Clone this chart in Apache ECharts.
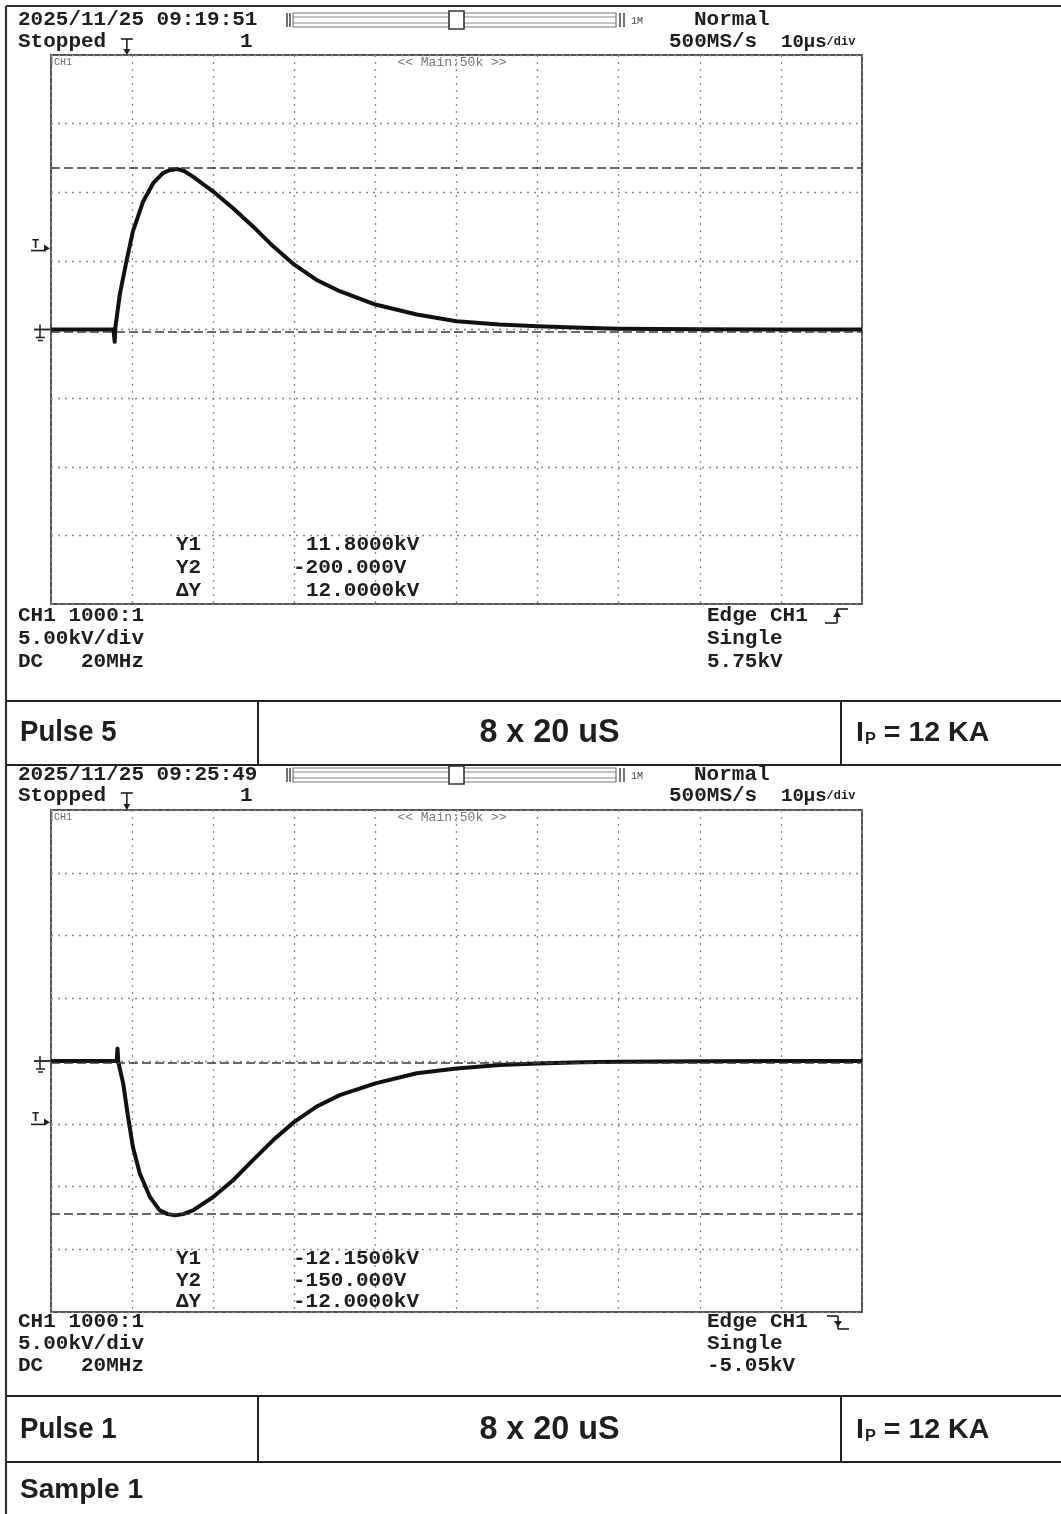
<!DOCTYPE html>
<html><head><meta charset="utf-8">
<script src="https://cdn.jsdelivr.net/npm/echarts@6/dist/echarts.min.js"></script>
<style>html,body{margin:0;padding:0;background:#fff}#c{width:1061px;height:1514px}</style>
</head><body><div id="c"></div>
<script>
// ---------------- data ----------------
// Pulse 5 (positive 8/20 impulse), time in µs, voltage in kV
const pulse5TimeUs = [0, 7.7, 7.85, 7.95, 8.48, 9.3, 10.1, 11.36, 12.6, 13.8, 14.6, 15.5, 16.4, 17.5, 20.0, 22.45, 24.9, 27.4, 30.0, 32.7, 35.6, 40.0, 45.1, 50.0, 55.3, 60.0, 65.5, 70, 80, 90, 100];
const pulse5Kv     = [0, 0, -0.9, 0.2, 2.54, 4.97, 7.15, 9.33, 10.66, 11.39, 11.6, 11.7, 11.55, 11.14, 10.05, 8.84, 7.51, 6.06, 4.72, 3.63, 2.79, 1.82, 1.09, 0.6, 0.36, 0.24, 0.12, 0.05, 0.02, 0, 0];
// Pulse 1 (negative 8/20 impulse)
const pulse1TimeUs = [0, 8.1, 8.2, 8.3, 8.9, 9.5, 10.1, 10.95, 12.2, 13.4, 14.4, 15.3, 16.3, 17.5, 20.0, 22.45, 24.9, 27.4, 30.0, 32.7, 35.6, 40.0, 45.1, 50.0, 55.3, 60.0, 65.5, 70, 80, 90, 100];
const pulse1Kv     = [0, 0, 1.0, -0.1, -1.78, -4.45, -6.85, -8.97, -10.84, -11.9, -12.2, -12.3, -12.2, -11.9, -10.84, -9.5, -7.9, -6.3, -4.85, -3.65, -2.72, -1.78, -0.98, -0.59, -0.32, -0.2, -0.1, -0.05, -0.02, 0, 0];

const pulse5CursorsKv = [11.8, -0.2];     // Y1, Y2
const pulse1CursorsKv = [-12.15, -0.15];
const pulse5TriggerKv = 5.75;
const pulse1TriggerKv = -5.05;
const triggerTimeUs = 9.35;

const pulse5Readout = ['11.8000kV', '-200.000V', '12.0000kV'];
const pulse1Readout = ['-12.1500kV', '-150.000V', '-12.0000kV'];
const readoutNames = ['Y1', 'Y2', 'ΔY'];
const pulse5Dates = ['2025/11/25 09:19:51'];
const pulse1Dates = ['2025/11/25 09:25:49'];
const pulse5Footer = ['CH1 1000:1', '5.00kV/div', 'DC   20MHz'];
const pulse5TrigInfo = ['Edge CH1', 'Single', '5.75kV'];
const pulse1Footer = ['CH1 1000:1', '5.00kV/div', 'DC   20MHz'];
const pulse1TrigInfo = ['Edge CH1', 'Single', '-5.05kV'];
const rowPulseNames = ['Pulse 5', 'Pulse 1'];
const rowWaveforms = ['8 x 20 uS', '8 x 20 uS'];
const rowPeakCurrent = ['12 KA', '12 KA'];
const footerSample = 'Sample 1';

// ---------------- chart ----------------
const chart = echarts.init(document.getElementById('c'), null, {renderer: 'canvas'});
const zip = (a, b) => a.map((t, i) => [t, b[i]]);

const G = [
  {left: 51, top: 55, width: 811, height: 549},
  {left: 51, top: 810, width: 811, height: 502}
];
function xAx(i) {
  return {gridIndex: i, type: 'value', min: 0, max: 100, interval: 10,
    axisLine: {show: false}, axisTick: {show: false}, axisLabel: {show: false},
    splitLine: {show: true, lineStyle: {color: '#8a8a8a', type: [2, 5], width: 1.3}}};
}
function yAx(i) {
  return {gridIndex: i, type: 'value', min: -20, max: 20, interval: 5,
    axisLine: {show: false}, axisTick: {show: false}, axisLabel: {show: false},
    splitLine: {show: true, lineStyle: {color: '#8a8a8a', type: [2, 5], width: 1.3}}};
}
function trace(i, t, v, cursors) {
  return {type: 'line', xAxisIndex: i, yAxisIndex: i, data: zip(t, v),
    showSymbol: false, symbol: 'none', smooth: false, animation: false,
    lineStyle: {color: '#111', width: 4, join: 'round'},
    markLine: {silent: true, symbol: 'none', animation: false, label: {show: false},
      lineStyle: {color: '#3a3a3a', type: [9, 4], width: 1.6},
      data: cursors.map(c => ({yAxis: c}))}};
}

chart.setOption({
  animation: false,
  backgroundColor: '#fff',
  grid: G.map(g => Object.assign({show: true, borderColor: '#555', borderWidth: 2, backgroundColor: 'transparent'}, g)),
  xAxis: [xAx(0), xAx(1)],
  yAxis: [yAx(0), yAx(1)],
  series: [trace(0, pulse5TimeUs, pulse5Kv, pulse5CursorsKv), trace(1, pulse1TimeUs, pulse1Kv, pulse1CursorsKv)]
});

// ---------------- decorations ----------------
const MONO = '"Liberation Mono", "DejaVu Sans Mono", monospace';
const SANS = '"Liberation Sans", Arial, sans-serif';
const INK = '#1e1e1e';
const els = [];
function txt(text, x, y, o) {
  o = o || {};
  els.push({type: 'text', x: x, y: y, scaleX: o.sx || 1, scaleY: o.sy || 1, z: 10,
    style: {text: text, fill: o.fill || INK, align: o.align || 'left', verticalAlign: 'middle',
      fontFamily: o.family || MONO, fontSize: o.size || 21, fontWeight: o.weight || 'bold', rich: o.rich}});
}
function line(x1, y1, x2, y2, w, c) {
  els.push({type: 'line', z: 10, shape: {x1, y1, x2, y2}, style: {stroke: c || INK, lineWidth: w || 1.5}});
}
function poly(points, c) {
  els.push({type: 'polygon', z: 10, shape: {points}, style: {fill: c || INK}});
}

function scope(cfg) {
  const gi = cfg.gi;
  const px = (t, v) => chart.convertToPixel({xAxisIndex: gi, yAxisIndex: gi}, [t, v]);
  const top = G[gi].top;
  txt(cfg.date, 18, cfg.dateY);
  txt('Stopped', 18, cfg.stopY);
  txt('1', 240, cfg.stopY);
  // trigger position marker above the screen
  const tx = px(triggerTimeUs, 0)[0];
  line(tx - 6, cfg.stopY - 3, tx + 6, cfg.stopY - 3, 1.6);
  line(tx, cfg.stopY - 3, tx, top - 4, 1.6);
  poly([[tx - 3.5, top - 6], [tx + 3.5, top - 6], [tx, top]]);
  // record-length slider
  const sy = cfg.dateY;
  els.push({type: 'rect', z: 10, shape: {x: 293, y: sy - 7, width: 323, height: 14}, style: {fill: 'none', stroke: '#777', lineWidth: 1.2}});
  line(293, sy - 3, 616, sy - 3, 1.2, '#888');
  line(293, sy + 3, 616, sy + 3, 1.2, '#888');
  line(287, sy - 7, 287, sy + 7, 1.5, '#444');
  line(290, sy - 7, 290, sy + 7, 1.5, '#444');
  line(620, sy - 7, 620, sy + 7, 1.5, '#444');
  line(624, sy - 7, 624, sy + 7, 1.5, '#444');
  els.push({type: 'rect', z: 11, shape: {x: 449, y: sy - 9, width: 15, height: 18}, style: {fill: '#fff', stroke: '#333', lineWidth: 1.6}});
  txt('1M', 631, sy + 1, {size: 10, weight: 'normal', fill: '#444'});
  txt('Normal', 694, cfg.dateY);
  txt('500MS/s', 669, cfg.stopY);
  txt('{a|10µs}{b|/div}', 781, cfg.stopY, {rich: {a: {fontFamily: MONO, fontSize: 19, fontWeight: 'bold', fill: INK}, b: {fontFamily: MONO, fontSize: 12, fontWeight: 'bold', fill: INK}}});
  // small in-screen labels
  txt('CH1', 54, top + 7, {size: 10, weight: 'normal', fill: '#666'});
  line(52, top + 2, 52, top + 12, 1, '#888');
  txt('<< Main:50k >>', 452, top + 8, {size: 13, weight: 'normal', fill: '#777', align: 'center'});
  // ground reference marker
  const gy = px(0, 0)[1];
  line(34, gy, 50, gy, 1.8);
  line(40, gy - 5, 40, gy + 8, 1.5);
  line(36, gy + 8, 45, gy + 8, 1.5);
  line(38, gy + 11, 43, gy + 11, 1.5);
  // trigger level marker
  const ty = px(0, cfg.triggerKv)[1];
  txt('T', 32, ty - 6, {size: 12, weight: 'bold'});
  line(31, ty, 46, ty, 1.6);
  poly([[44, ty - 6], [50, ty - 2], [44, ty + 1]]);
  // cursor readouts
  cfg.readout.forEach((r, i) => {
    txt(readoutNames[i], 176, cfg.readY[i]);
    txt(r, r.startsWith('-') ? 293 : 306, cfg.readY[i]);
  });
  // footer
  cfg.footer.forEach((f, i) => txt(f, 18, cfg.footY[i]));
  cfg.trig.forEach((f, i) => txt(f, 707, cfg.footY[i]));
  // edge icon
  const ey = cfg.footY[0];
  if (cfg.rising) {
    line(825, ey + 7, 837, ey + 7, 1.6); line(837, ey + 7, 837, ey - 7, 1.6); line(837, ey - 7, 848, ey - 7, 1.6);
    poly([[833, ey + 1], [841, ey + 1], [837, ey - 5]]);
  } else {
    line(827, ey - 6, 838, ey - 6, 1.6); line(838, ey - 6, 838, ey + 7, 1.6); line(838, ey + 7, 849, ey + 7, 1.6);
    poly([[834, ey - 1], [842, ey - 1], [838, ey + 5]]);
  }
}

scope({gi: 0, date: pulse5Dates[0], dateY: 20, stopY: 42, triggerKv: pulse5TriggerKv,
  readout: pulse5Readout, readY: [545, 568, 591], footer: pulse5Footer, trig: pulse5TrigInfo,
  footY: [616, 639, 662], rising: true});
scope({gi: 1, date: pulse1Dates[0], dateY: 775, stopY: 796, triggerKv: pulse1TriggerKv,
  readout: pulse1Readout, readY: [1259, 1281, 1302], footer: pulse1Footer, trig: pulse1TrigInfo,
  footY: [1322, 1344, 1366], rising: false});

// ---------------- table frame ----------------
const K = '#222';
line(6, 6, 1061, 6, 2.2, '#333');
line(6, 6, 6, 1514, 2.2, '#333');
[701, 765, 1396, 1462].forEach(y => line(6, y, 1061, y, 2, K));
[[701, 765], [1396, 1462]].forEach(r => { line(258, r[0], 258, r[1], 2, K); line(841, r[0], 841, r[1], 2, K); });
const rowCY = [733, 1430];
rowCY.forEach((cy, i) => {
  txt(rowPulseNames[i], 20, cy, {family: SANS, size: 29, sx: 0.95});
  txt(rowWaveforms[i], 549.5, cy, {family: SANS, size: 33, align: 'center', sx: 0.98});
  txt('{i|I}{p|P}{r| = ' + rowPeakCurrent[i] + '}', 856, cy, {family: SANS, size: 28, sx: 1.02,
    rich: {i: {fontFamily: SANS, fontSize: 28, fontWeight: 'bold', fill: INK},
           p: {fontFamily: SANS, fontSize: 16, fontWeight: 'bold', fill: INK, padding: [14, 0, 0, 1]},
           r: {fontFamily: SANS, fontSize: 28, fontWeight: 'bold', fill: INK}}});
});
txt(footerSample, 20, 1490, {family: SANS, size: 28});

chart.setOption({graphic: {elements: els}});
</script></body></html>
